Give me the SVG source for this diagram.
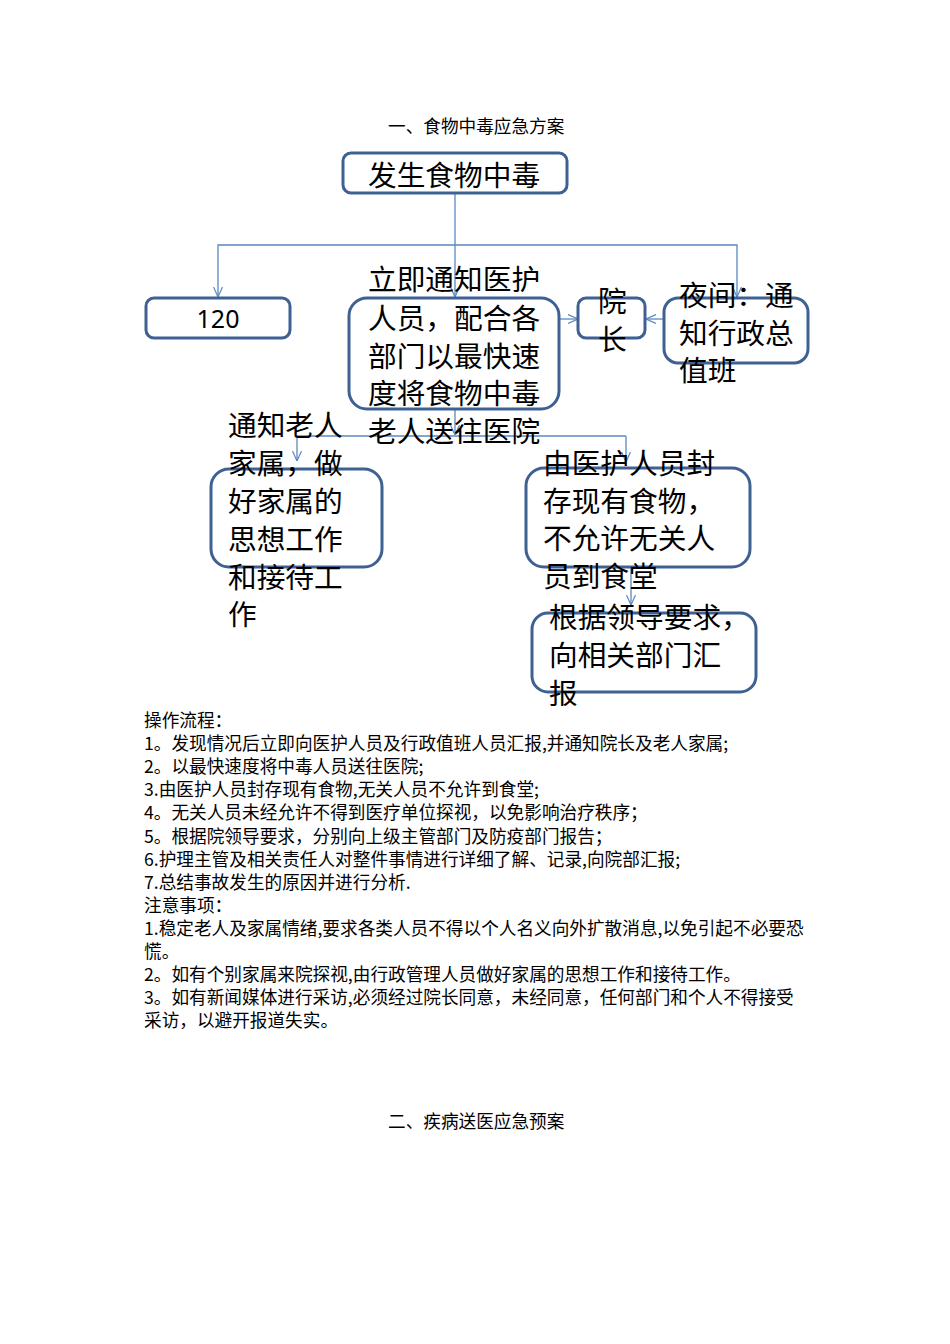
<svg xmlns="http://www.w3.org/2000/svg" width="950" height="1344" viewBox="0 0 950 1344">
<style>
.bg{fill:#ffffff}
.box{fill:none;stroke:#3f6093;stroke-width:3}
.big{font-family:"Noto Sans CJK SC","Noto Sans",sans-serif;font-size:28.7px;fill:#000}
.num{font-family:"Noto Sans","Liberation Sans",sans-serif;font-size:25px;fill:#000}
.small{font-family:"Noto Sans CJK SC","Noto Sans",sans-serif;font-size:17.65px;fill:#000}
.conn{fill:none;stroke:#5b87c0;stroke-width:1.3}
</style>
<defs>
<marker id="arr" viewBox="0 0 10 10" refX="10" refY="5" markerWidth="10" markerHeight="10" markerUnits="userSpaceOnUse" orient="auto">
<path d="M0,0.5 L10,5 L0,9.5" fill="none" stroke="#5b87c0" stroke-width="1.2"/>
</marker>
</defs>
<rect class="bg" x="0" y="0" width="950" height="1344"/>
<text class="small" x="388" y="133">一、食物中毒应急方案</text>

<g id="connectors">
<path class="conn" d="M455,193 V297" marker-end="url(#arr)"/>
<path class="conn" d="M455,245 H218 V297" marker-end="url(#arr)"/>
<path class="conn" d="M455,245 H737 V297" marker-end="url(#arr)"/>
<path class="conn" d="M559,319 H578" marker-end="url(#arr)"/>
<path class="conn" d="M664,319 H646" marker-end="url(#arr)"/>
<path class="conn" d="M455,409 V435" marker-end="url(#arr)"/>
<path class="conn" d="M297,436 H626"/>
<path class="conn" d="M297,436 V461" marker-end="url(#arr)"/>
<path class="conn" d="M626,436 V462" marker-end="url(#arr)"/>
<path class="conn" d="M631,567 V605" marker-end="url(#arr)"/>
</g>

<g id="node-start">
<rect class="box" x="343" y="153" width="224" height="40" rx="8"/>
<text class="big" x="368" y="186">发生食物中毒</text>
</g>

<g id="node-120">
<rect class="box" x="146" y="298" width="144" height="40" rx="8"/>
<text class="num" x="218" y="328" text-anchor="middle">120</text>
</g>

<g id="node-notify">
<rect class="box" x="349" y="298" width="210" height="111" rx="18"/>
<text class="big" x="368" y="290">立即通知医护</text>
<text class="big" x="368" y="329">人员，配合各</text>
<text class="big" x="368" y="367">部门以最快速</text>
<text class="big" x="368" y="404">度将食物中毒</text>
<text class="big" x="368" y="442">老人送往医院</text>
</g>

<g id="node-dean">
<rect class="box" x="578" y="298" width="67" height="40" rx="8"/>
<text class="big" x="598" y="312">院</text>
<text class="big" x="598" y="350">长</text>
</g>

<g id="node-night">
<rect class="box" x="664" y="298" width="144" height="65" rx="14"/>
<text class="big" x="679" y="306">夜间：通</text>
<text class="big" x="679" y="344">知行政总</text>
<text class="big" x="679" y="381">值班</text>
</g>

<g id="node-family">
<rect class="box" x="211" y="469" width="171" height="98" rx="18"/>
<text class="big" x="228" y="436">通知老人</text>
<text class="big" x="228" y="474">家属，做</text>
<text class="big" x="228" y="512">好家属的</text>
<text class="big" x="228" y="550">思想工作</text>
<text class="big" x="228" y="588">和接待工</text>
<text class="big" x="228" y="625">作</text>
</g>

<g id="node-seal">
<rect class="box" x="526" y="468" width="224" height="99" rx="18"/>
<text class="big" x="543" y="474">由医护人员封</text>
<text class="big" x="543" y="512">存现有食物，</text>
<text class="big" x="543" y="549">不允许无关人</text>
<text class="big" x="543" y="587">员到食堂</text>
</g>

<g id="node-report">
<rect class="box" x="532" y="613" width="224" height="79" rx="16"/>
<text class="big" x="549" y="628">根据领导要求，</text>
<text class="big" x="549" y="666">向相关部门汇</text>
<text class="big" x="549" y="704">报</text>
</g>

<g id="notes">
<text class="small" x="144" y="727">操作流程：</text>
<text class="small" x="144" y="750">1。发现情况后立即向医护人员及行政值班人员汇报,并通知院长及老人家属;</text>
<text class="small" x="144" y="773">2。以最快速度将中毒人员送往医院;</text>
<text class="small" x="144" y="796">3.由医护人员封存现有食物,无关人员不允许到食堂;</text>
<text class="small" x="144" y="819">4。无关人员未经允许不得到医疗单位探视，以免影响治疗秩序；</text>
<text class="small" x="144" y="843">5。根据院领导要求，分别向上级主管部门及防疫部门报告；</text>
<text class="small" x="144" y="866">6.护理主管及相关责任人对整件事情进行详细了解、记录,向院部汇报;</text>
<text class="small" x="144" y="889">7.总结事故发生的原因并进行分析.</text>
<text class="small" x="144" y="912">注意事项：</text>
<text class="small" x="144" y="935">1.稳定老人及家属情绪,要求各类人员不得以个人名义向外扩散消息,以免引起不必要恐</text>
<text class="small" x="144" y="958">慌。</text>
<text class="small" x="144" y="981">2。如有个别家属来院探视,由行政管理人员做好家属的思想工作和接待工作。</text>
<text class="small" x="144" y="1004">3。如有新闻媒体进行采访,必须经过院长同意，未经同意，任何部门和个人不得接受</text>
<text class="small" x="144" y="1027">采访，以避开报道失实。</text>
</g>

<text class="small" x="388" y="1128">二、疾病送医应急预案</text>
</svg>
